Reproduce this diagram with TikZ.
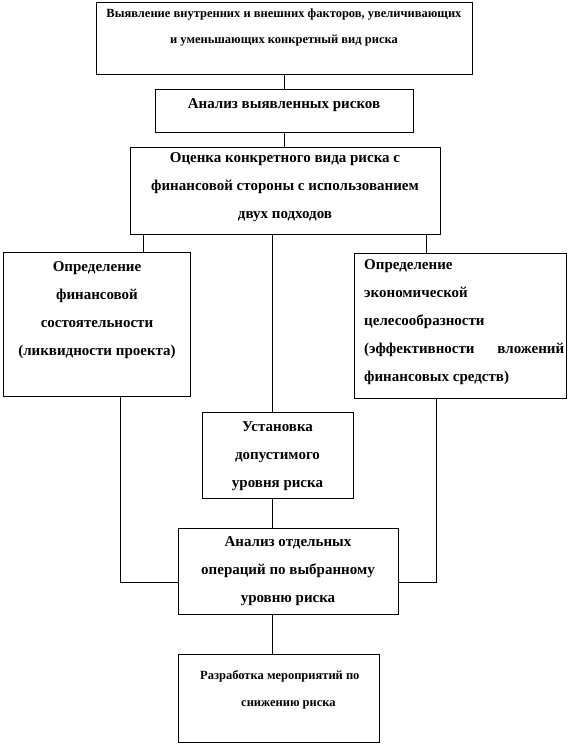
\documentclass[tikz,border=0pt]{standalone}
\usepackage{fontspec}
\setmainfont{Liberation Serif}
\begin{document}
\begin{tikzpicture}[x=1pt,y=-1pt,
  box/.style={draw,line width=0.8pt,inner sep=0pt,minimum width=#1},
  txt/.style={inner sep=0pt,align=center,font=\fontsize{15}{28}\selectfont\bfseries},
  smalltxt/.style={inner sep=0pt,align=center,font=\fontsize{12.5}{26}\selectfont\bfseries},
  conn/.style={line width=0.8pt}]
\useasboundingbox (0,0) rectangle (569,745);
% boxes
\node[box=376,minimum height=72] (b1) at (284,38) {};
\node[box=258,minimum height=43] (b2) at (284,110.5) {};
\node[box=310,minimum height=87] (b3) at (285,190.5) {};
\node[box=187,minimum height=144] (lb) at (96.5,324) {};
\node[box=212,minimum height=145] (rb) at (460,325.5) {};
\node[box=151,minimum height=86] (b4) at (277.5,455) {};
\node[box=220,minimum height=86] (b5) at (288,571) {};
\node[box=201,minimum height=88] (b6) at (278.5,698) {};
% texts
\node[smalltxt] (t1) at (284,28) {Выявление внутренних и внешних факторов, увеличивающих\\и уменьшающих конкретный вид риска};
\node[txt] (t2) at (284,105) {Анализ выявленных рисков};
\node[txt] (t3) at (285,187.5) {Оценка конкретного вида риска с\\финансовой стороны с использованием\\двух подходов};
\node[txt] (t4) at (97,310.5) {Определение\\финансовой\\состоятельности\\(ликвидности проекта)};
\node[txt,text width=200pt,align=justify,anchor=north west] (t5) at (364,259) {Определение\\экономической\\целесообразности\\(эффективности вложений финансовых средств)};
\node[txt] (t6) at (277.5,456) {Установка\\допустимого\\уровня риска};
\node[txt] (t7) at (288,571.5) {Анализ отдельных\\операций по выбранному\\уровню риска};
\node[smalltxt,font=\fontsize{12.5}{27}\selectfont\bfseries,align=left,anchor=west] (t8) at (200,689.5) {Разработка мероприятий по\\\hspace*{41pt}снижению риска};
% connectors
\draw[conn] (b1.south -| 284,0) -- (b2.north -| 284,0);
\draw[conn] (b2.south -| 284,0) -- (b3.north -| 284,0);
\draw[conn] (b3.south -| 143,0) -- (lb.north -| 143,0);
\draw[conn] (b3.south -| 426,0) -- (rb.north -| 426,0);
\draw[conn] (b3.south -| 272,0) -- (b4.north -| 272,0);
\draw[conn] (b4.south -| 272,0) -- (b5.north -| 272,0);
\draw[conn] (b5.south -| 272,0) -- (b6.north -| 272,0);
\draw[conn] (lb.south -| 120,0) |- (b5.west |- 0,582);
\draw[conn] (rb.south -| 436,0) |- (b5.east |- 0,582);
\end{tikzpicture}
\end{document}
